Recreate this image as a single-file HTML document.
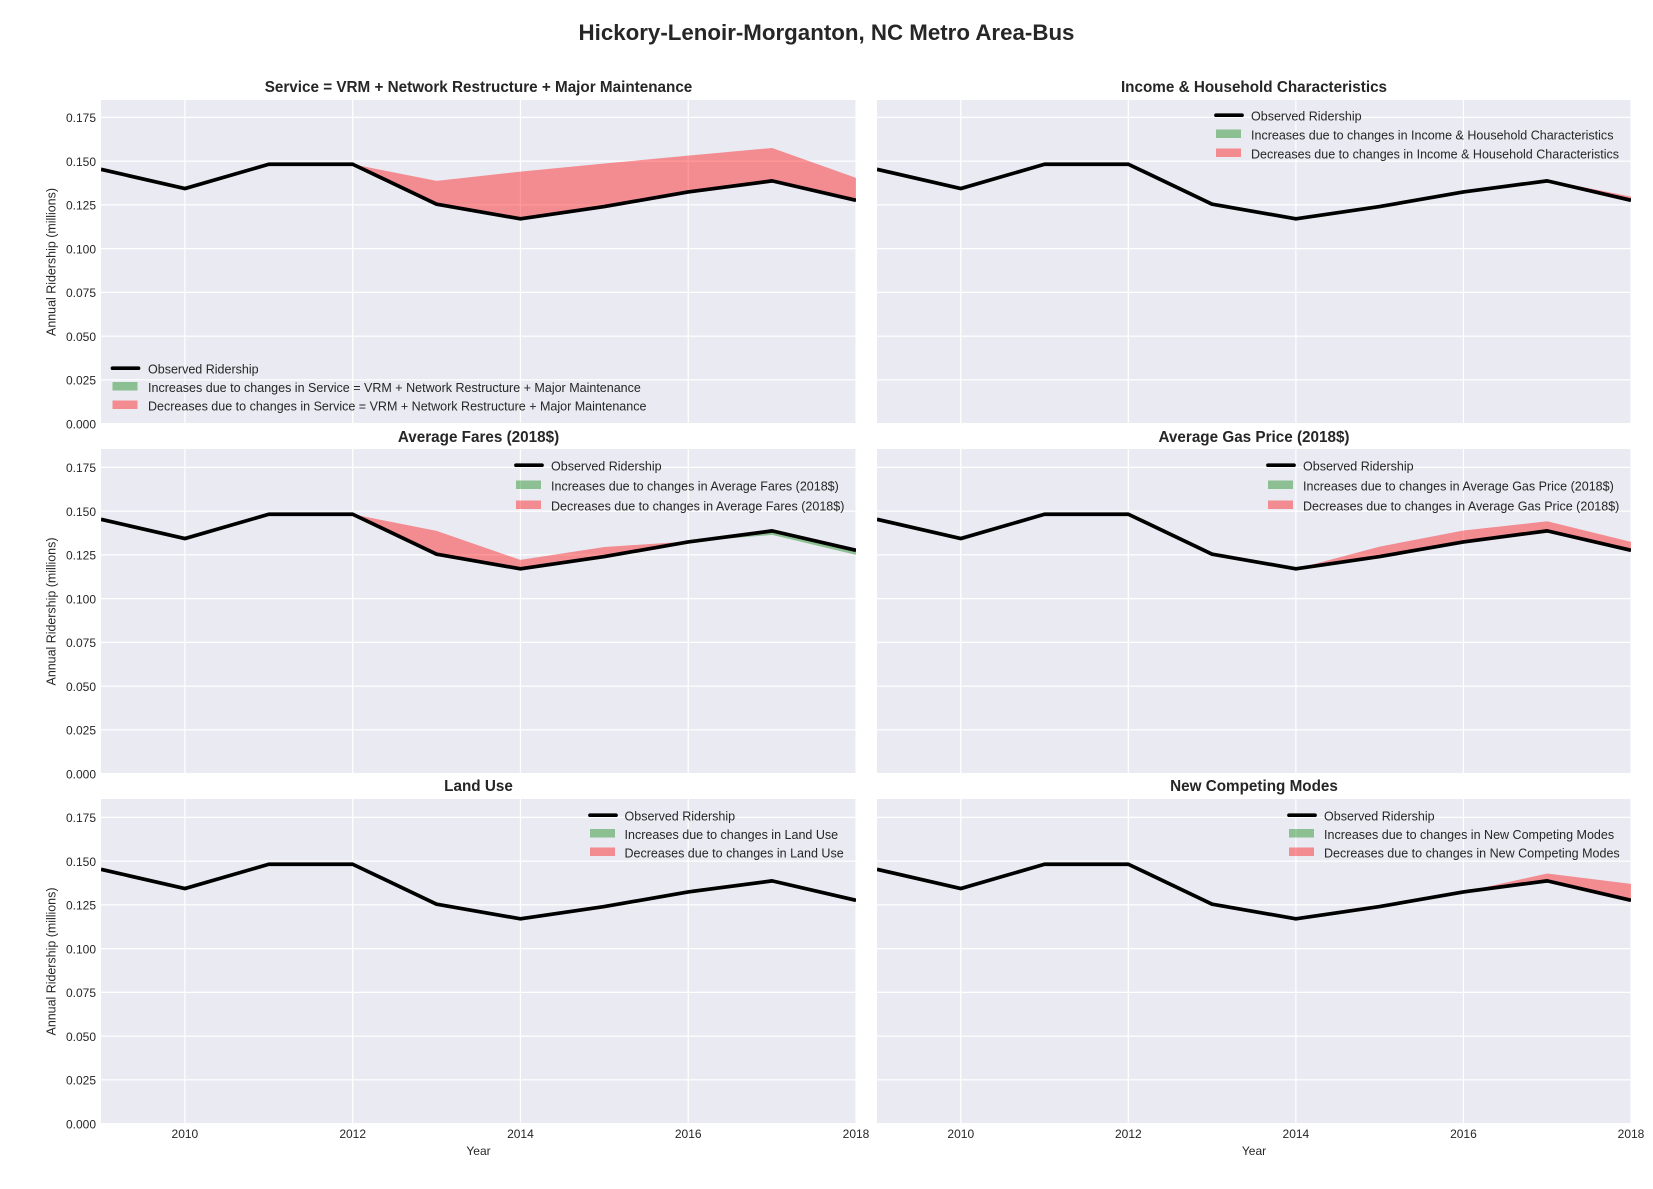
<!DOCTYPE html>
<html lang="en">
<head>
<meta charset="utf-8">
<title>Hickory-Lenoir-Morganton, NC Metro Area-Bus</title>
<style>
html,body{margin:0;padding:0;background:#fff;}
svg{display:block;}
text{font-family:"Liberation Sans",Arial,sans-serif;fill:#262626;}
</style>
</head>
<body>
<svg id="figure" xmlns="http://www.w3.org/2000/svg" width="1653" height="1189" viewBox="0 0 1653 1189">
<text x="826.5" y="40" text-anchor="middle" font-size="22.3" font-weight="bold">Hickory-Lenoir-Morganton, NC Metro Area-Bus</text>
</svg>
<script>
const years = [2009, 2010, 2011, 2012, 2013, 2014, 2015, 2016, 2017, 2018];
const observed = [0.1453, 0.1343, 0.1482, 0.1482, 0.1254, 0.1170, 0.1240, 0.1324, 0.1387, 0.1276];
const serviceCounterfactual = [0.1453, 0.1343, 0.1482, 0.1482, 0.1387, 0.1440, 0.1486, 0.1531, 0.1575, 0.1404];
const incomeCounterfactual = [0.1453, 0.1343, 0.1482, 0.1482, 0.1254, 0.1170, 0.1240, 0.1324, 0.1393, 0.1297];
const faresCounterfactual = [0.1453, 0.1343, 0.1482, 0.1482, 0.1387, 0.1221, 0.1295, 0.1326, 0.1364, 0.1250];
const gasCounterfactual = [0.1453, 0.1343, 0.1482, 0.1482, 0.1254, 0.1170, 0.1297, 0.1389, 0.1442, 0.1324];
const landUseCounterfactual = [0.1453, 0.1343, 0.1482, 0.1482, 0.1254, 0.1170, 0.1240, 0.1324, 0.1387, 0.1276];
const modesCounterfactual = [0.1453, 0.1343, 0.1482, 0.1482, 0.1254, 0.1170, 0.1240, 0.1324, 0.1429, 0.1370];
const xTickLabels = [2010, 2012, 2014, 2016, 2018];
const yTickLabels = ['0.000', '0.025', '0.050', '0.075', '0.100', '0.125', '0.150', '0.175'];
const panelTitles = ['Service = VRM + Network Restructure + Major Maintenance', 'Income & Household Characteristics', 'Average Fares (2018$)', 'Average Gas Price (2018$)', 'Land Use', 'New Competing Modes'];
const panelSeries = [serviceCounterfactual, incomeCounterfactual, faresCounterfactual, gasCounterfactual, landUseCounterfactual, modesCounterfactual];

const SVG_NS = 'http://www.w3.org/2000/svg';
const fig = document.getElementById('figure');
const X_MIN = 2009, X_MAX = 2018, PX_PER_UNIT = 1750;
const COLS = [{l: 101, r: 856}, {l: 877, r: 1631}];
const ROWS = [{t: 100, b: 424}, {t: 449, b: 774}, {t: 799, b: 1124}];
const TITLE_Y = [92, 442, 791];
/* legend placement: handle left x, text x, row centre y values */
const LEGENDS = [
  {hx: 112.5, tx: 148, ys: [368.5, 387, 405.5]},
  {hx: 1216, tx: 1251, ys: [115.5, 134.5, 153.5]},
  {hx: 516, tx: 551, ys: [465.5, 485.5, 505.5]},
  {hx: 1268, tx: 1303, ys: [465.5, 485.5, 505.5]},
  {hx: 590, tx: 624.5, ys: [815.5, 834, 852.5]},
  {hx: 1289, tx: 1324, ys: [815.5, 834, 852.5]}
];

function make(parent, tag, attrs, txt) {
  const el = document.createElementNS(SVG_NS, tag);
  for (const k in attrs) el.setAttribute(k, attrs[k]);
  if (txt !== undefined) el.textContent = txt;
  parent.appendChild(el);
  return el;
}

panelTitles.forEach(function (title, idx) {
  const col = COLS[idx % 2], row = ROWS[Math.floor(idx / 2)];
  const xScale = function (v) { return col.l + (v - X_MIN) / (X_MAX - X_MIN) * (col.r - col.l); };
  const yScale = function (v) { return row.b - 0.4 - v * PX_PER_UNIT; };
  const cf = panelSeries[idx];

  const g = make(fig, 'g', {});
  
  

  const clipId = 'clip-' + idx;
  const defs = make(g, 'defs', {});
  const clip = make(defs, 'clipPath', {id: clipId});
  make(clip, 'rect', {x: col.l, y: row.t, width: col.r - col.l, height: row.b - row.t});

  const bg = make(g, 'rect', {x: col.l, y: row.t, width: col.r - col.l, height: row.b - row.t, fill: '#eaeaf2'});
  
  

  yTickLabels.forEach(function (lab) {
    const y = yScale(parseFloat(lab));
    const gl = make(g, 'line', {x1: col.l, x2: col.r, y1: y, y2: y, stroke: '#fff', 'stroke-width': 1.3, 'clip-path': 'url(#' + clipId + ')'});
    
    
    if (idx % 2 === 0) {
      const t = make(g, 'text', {x: 96, y: y + 4.7, 'text-anchor': 'end', 'font-size': 12}, lab);
      
      
    }
  });

  xTickLabels.forEach(function (yr) {
    const x = xScale(yr);
    const gl = make(g, 'line', {x1: x, x2: x, y1: row.t, y2: row.b, stroke: '#fff', 'stroke-width': 1.2, 'clip-path': 'url(#' + clipId + ')'});
    
    
    if (idx >= 4) {
      const t = make(g, 'text', {x: x, y: row.b + 14, 'text-anchor': 'middle', 'font-size': 12}, yr);
      
      
    }
  });

  const area = function (picker) {
    const top = years.map(function (yr, i) { return xScale(yr) + ',' + yScale(picker(cf[i], observed[i])); });
    const bottom = years.map(function (yr, i) { return xScale(yr) + ',' + yScale(observed[i]); }).reverse();
    return top.concat(bottom).join(' ');
  };

  const dec = make(g, 'polygon', {points: area(Math.max), fill: 'red', 'fill-opacity': 0.4, 'clip-path': 'url(#' + clipId + ')'});
  
  

  const inc = make(g, 'polygon', {points: area(Math.min), fill: 'green', 'fill-opacity': 0.4, 'clip-path': 'url(#' + clipId + ')'});
  
  

  const linePts = years.map(function (yr, i) { return xScale(yr) + ',' + yScale(observed[i]); }).join(' ');
  const line = make(g, 'polyline', {points: linePts, fill: 'none', stroke: '#000', 'stroke-width': 3.7, 'stroke-linejoin': 'round', 'clip-path': 'url(#' + clipId + ')'});
  
  

  const tt = make(g, 'text', {x: (col.l + col.r) / 2, y: TITLE_Y[Math.floor(idx / 2)], 'text-anchor': 'middle', 'font-size': 15.25, 'font-weight': 'bold'}, title);
  
  

  if (idx % 2 === 0) {
    const cy = (row.t + row.b) / 2;
    const yl = make(g, 'text', {x: 0, y: 0, transform: 'translate(55.5 ' + cy + ') rotate(-90)', 'text-anchor': 'middle', 'font-size': 12.45}, 'Annual Ridership (millions)');
    
    
  }
  if (idx >= 4) {
    const xl = make(g, 'text', {x: (col.l + col.r) / 2, y: row.b + 31, 'text-anchor': 'middle', 'font-size': 12}, 'Year');
    
    
  }

  const lg = LEGENDS[idx];
  const legend = make(g, 'g', {});
  
  

  const lh = make(legend, 'line', {x1: lg.hx, x2: lg.hx + 26, y1: lg.ys[0] - 0.3, y2: lg.ys[0] - 0.3, stroke: '#000', 'stroke-width': 3.7, 'stroke-linecap': 'round'});
  
  
  const lt0 = make(legend, 'text', {x: lg.tx, y: lg.ys[0] + 4.9, 'font-size': 12.53}, 'Observed Ridership');
  
  

  const incPatch = make(legend, 'rect', {x: lg.hx, y: lg.ys[1] - 5, width: 25, height: 8.5, fill: 'green', 'fill-opacity': 0.4});
  
  
  const lt1 = make(legend, 'text', {x: lg.tx, y: lg.ys[1] + 4.9, 'font-size': 12.53}, 'Increases due to changes in ' + title);
  
  

  const decPatch = make(legend, 'rect', {x: lg.hx, y: lg.ys[2] - 5, width: 25, height: 8.5, fill: 'red', 'fill-opacity': 0.4});
  
  
  const lt2 = make(legend, 'text', {x: lg.tx, y: lg.ys[2] + 4.9, 'font-size': 12.53}, 'Decreases due to changes in ' + title);
  
  
});
</script>
</body>
</html>
